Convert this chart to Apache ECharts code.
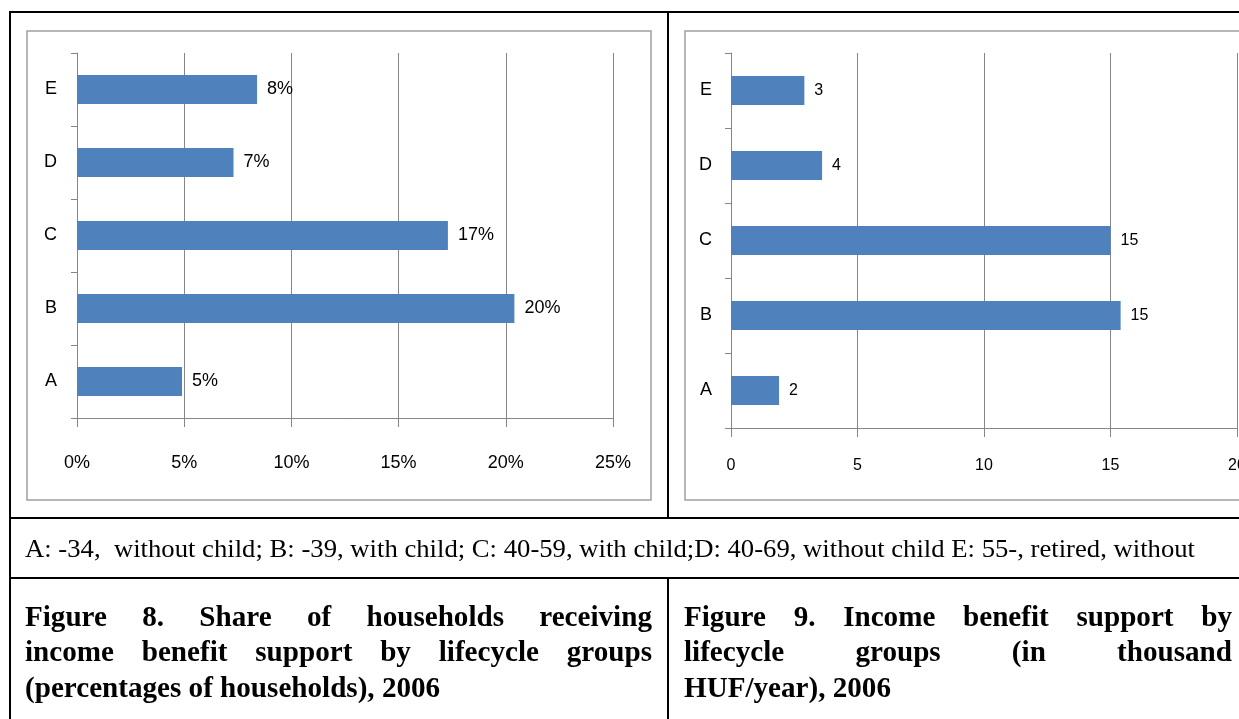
<!DOCTYPE html>
<html>
<head>
<meta charset="utf-8">
<script src="https://cdn.jsdelivr.net/npm/echarts@6/dist/echarts.min.js"></script>
<style>
  html, body { margin: 0; padding: 0; background: #fff; }
  #wrap { position: relative; width: 1239px; height: 719px; overflow: hidden; background: #fff; }
  #chart { position: absolute; left: 0; top: 0; width: 1239px; height: 719px; }
  .rule { position: absolute; background: #000; }
  .txt { position: absolute; white-space: pre; color: #000; transform-origin: left center; }
  .just { display: flex; justify-content: space-between; }
</style>
</head>
<body>
<div id="wrap">
  <div id="chart"></div>
  <div class="rule" style="left:9px;top:11px;width:1230px;height:2px;"></div>
  <div class="rule" style="left:9px;top:11px;width:2px;height:708px;"></div>
  <div class="rule" style="left:667px;top:11px;width:2px;height:507px;"></div>
  <div class="rule" style="left:9px;top:517px;width:1230px;height:2px;"></div>
  <div class="rule" style="left:9px;top:577px;width:1230px;height:2px;"></div>
  <div class="rule" style="left:667px;top:577px;width:2px;height:142px;"></div>
</div>
<script>
// ---- data ----
const categories = ['A', 'B', 'C', 'D', 'E'];
const sharePct = [4.9, 20.4, 17.3, 7.3, 8.4];          // Figure 8, % of households
const benefitThousandHUF = [1.9, 15.4, 15.0, 3.6, 2.9]; // Figure 9, thousand HUF/year
const shareAxisTicks = [0, 5, 10, 15, 20, 25];
const benefitAxisTicks = [0, 5, 10, 15, 20];
const legendText = 'A: -34,  without child; B: -39, with child; C: 40-59, with child;D: 40-69, without child E: 55-, retired, without';
const caption8 = ['Figure 8. Share of households receiving', 'income benefit support by lifecycle groups', '(percentages of households), 2006'];
const caption9 = ['Figure 9. Income benefit support by', 'lifecycle groups (in thousand', 'HUF/year), 2006'];

const FONT = "'Liberation Sans', Arial, sans-serif";
const GRAY = '#868686';
const BLUE = '#4F81BD';

const chart = echarts.init(document.getElementById('chart'), null, { renderer: 'canvas' });

function xAxisCfg(gridIndex, ticks, fmt, fontSize, margin) {
  return {
    type: 'value', gridIndex: gridIndex,
    min: ticks[0], max: ticks[ticks.length - 1], interval: ticks[1] - ticks[0],
    axisLine: { show: true, lineStyle: { color: GRAY, width: 1 } },
    axisTick: { show: true, length: 9, lineStyle: { color: GRAY } },
    splitLine: { show: true, lineStyle: { color: GRAY, width: 1 } },
    axisLabel: { formatter: fmt, fontFamily: FONT, fontSize: fontSize, color: '#000', margin: margin, showMaxLabel: true, showMinLabel: true, hideOverlap: false }
  };
}
function yAxisCfg(gridIndex, fontSize, margin) {
  return {
    type: 'category', gridIndex: gridIndex, data: categories,
    axisLine: { show: true, lineStyle: { color: GRAY, width: 1 } },
    axisTick: { show: true, length: 6, lineStyle: { color: GRAY } },
    axisLabel: { fontFamily: FONT, fontSize: fontSize, color: '#000', margin: margin }
  };
}

chart.setOption({
  animation: false,
  backgroundColor: 'transparent',
  grid: [
    { left: 77, top: 53, width: 536, height: 365, outerBoundsMode: 'none', containLabel: false },
    { left: 731, top: 53, width: 506, height: 375, outerBoundsMode: 'none', containLabel: false }
  ],
  xAxis: [
    xAxisCfg(0, shareAxisTicks, '{value}%', 18, 36),
    xAxisCfg(1, benefitAxisTicks, '{value}', 16, 30)
  ],
  yAxis: [
    yAxisCfg(0, 18, 20),
    yAxisCfg(1, 18, 19)
  ],
  graphic: [
    { type: 'rect', shape: { x: 27, y: 31, width: 624, height: 469 }, style: { fill: 'none', stroke: '#A0A0A0', lineWidth: 1.5 }, z: -1 },
    { type: 'rect', shape: { x: 685, y: 31, width: 620, height: 469 }, style: { fill: 'none', stroke: '#A0A0A0', lineWidth: 1.5 }, z: -1 }
  ],
  series: [
    {
      type: 'bar', xAxisIndex: 0, yAxisIndex: 0, data: sharePct, barWidth: 29,
      itemStyle: { color: BLUE },
      label: { show: true, position: 'right', distance: 10, fontFamily: FONT, fontSize: 18, color: '#000',
               formatter: p => Math.round(p.value) + '%' }
    },
    {
      type: 'bar', xAxisIndex: 1, yAxisIndex: 1, data: benefitThousandHUF, barWidth: 29,
      itemStyle: { color: BLUE },
      label: { show: true, position: 'right', distance: 10, fontFamily: FONT, fontSize: 16, color: '#000',
               formatter: p => String(Math.round(p.value)) }
    }
  ]
});

// ---- surrounding document text ----
const wrap = document.getElementById('wrap');
const ctx = document.createElement('canvas').getContext('2d');
function measure(text, font) { ctx.font = font; return ctx.measureText(text).width; }

function addLine(text, x, yc, lh, font, k, justifyWidth) {
  const d = document.createElement('div');
  d.className = 'txt';
  d.style.left = x + 'px';
  d.style.top = (yc - lh / 2) + 'px';
  d.style.height = lh + 'px';
  d.style.lineHeight = lh + 'px';
  d.style.font = font;
  d.style.transform = 'scaleX(' + k + ')';
  if (justifyWidth) {
    d.classList.add('just');
    d.style.width = (justifyWidth / k) + 'px';
    text.split(' ').forEach(w => { const s = document.createElement('span'); s.textContent = w; d.appendChild(s); });
  } else {
    d.textContent = text;
  }
  wrap.appendChild(d);
}

const legendFont = "26px 'Liberation Serif', 'Times New Roman', serif";
const kLeg = 1170 / measure(legendText, legendFont);
addLine(legendText, 25, 549, 30, legendFont, kLeg, null);

const capFont = "bold 30px 'Liberation Serif', 'Times New Roman', serif";
const lineY = [617, 652, 688];
const k8 = 377 / measure(caption8[2], capFont);
const k9 = 226 / measure(caption9[2], capFont);
const k = (k8 + k9) / 2;
caption8.forEach((t, i) => addLine(t, 25, lineY[i], 36, capFont, k, i < 2 ? 627 : null));
caption9.forEach((t, i) => addLine(t, 684, lineY[i], 36, capFont, k, i < 2 ? 548 : null));
</script>
</body>
</html>
